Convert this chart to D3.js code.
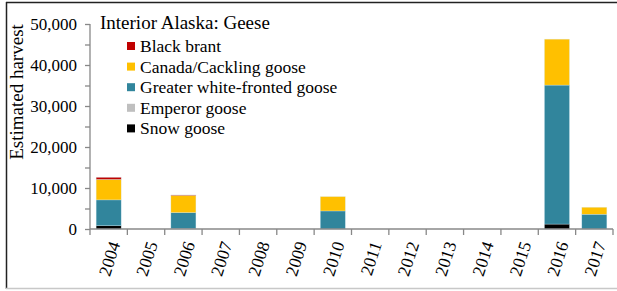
<!DOCTYPE html>
<html>
<head>
<meta charset="utf-8">
<script src="https://cdn.jsdelivr.net/npm/d3@7"></script>
<style>
  body { margin: 0; background: #fff; }
  svg { display: block; }
  svg text { font-family: "Times New Roman", "Liberation Serif", "DejaVu Serif", serif !important; fill: #000; }
</style>
</head>
<body>
<svg id="chart" width="617" height="291"></svg>
<script>
// ---- data ----
var years = ["2004","2005","2006","2007","2008","2009","2010","2011","2012","2013","2014","2015","2016","2017"];
var snowGoose     = [800, 0, 100, 0, 0, 0, 0, 0, 0, 0, 0, 0, 1200, 0];
var emperorGoose  = [0, 0, 0, 0, 0, 0, 0, 0, 0, 0, 0, 0, 0, 0];
var whiteFronted  = [6300, 0, 3900, 0, 0, 0, 4400, 0, 0, 0, 0, 0, 33900, 3600];
var canadaGoose   = [5000, 0, 4200, 0, 0, 0, 3500, 0, 0, 0, 0, 0, 11200, 1700];
var blackBrant    = [500, 0, 100, 0, 0, 0, 0, 0, 0, 0, 0, 0, 0, 0];
var yTicks = [0, 10000, 20000, 30000, 40000, 50000];

// legend order (top to bottom), stack goes the other way
var series = [
  {name: "Black brant", values: blackBrant, color: "#C00000"},
  {name: "Canada/Cackling goose", values: canadaGoose, color: "#FFC000"},
  {name: "Greater white-fronted goose", values: whiteFronted, color: "#31859C"},
  {name: "Emperor goose", values: emperorGoose, color: "#BFBFBF"},
  {name: "Snow goose", values: snowGoose, color: "#000000"}
];

var svg = d3.select("#chart");

// frame
svg.append("line").attr("x1", 6.5).attr("x2", 6.5).attr("y1", 2).attr("y2", 289).attr("stroke", "#222").attr("stroke-width", 1.5);
svg.append("line").attr("x1", 6).attr("x2", 617).attr("y1", 2.5).attr("y2", 2.5).attr("stroke", "#222").attr("stroke-width", 1.5);
svg.append("line").attr("x1", 6).attr("x2", 617).attr("y1", 288.5).attr("y2", 288.5).attr("stroke", "#c8c8c8").attr("stroke-width", 1.5);

var plotL = 90, plotR = 613, plotT = 24, plotB = 229;

var x = d3.scaleBand().domain(years).range([plotL, plotR]).paddingInner(0.33).paddingOuter(0.165);
var xb = d3.scaleBand().domain(years).range([plotL, plotR]); // for boundary ticks
var y = d3.scaleLinear().domain([0, 50000]).range([plotB, plotT]);

// build rows for stack
var rows = years.map(function (yr, i) {
  var r = {year: yr};
  series.forEach(function (s) { r[s.name] = s.values[i]; });
  return r;
});
var keys = series.map(function (s) { return s.name; }).reverse();
var stack = d3.stack().keys(keys)(rows);
var colorOf = {};
series.forEach(function (s) { colorOf[s.name] = s.color; });

svg.append("g").selectAll("g")
  .data(stack)
  .enter().append("g")
  .attr("fill", function (d) { return colorOf[d.key]; })
  .selectAll("rect")
  .data(function (d) { return d.filter(function (p) { return p[1] > p[0]; }); })
  .enter().append("rect")
  .attr("x", function (d) { return x(d.data.year); })
  .attr("width", x.bandwidth())
  .attr("y", function (d) { return y(d[1]); })
  .attr("height", function (d) { return y(d[0]) - y(d[1]); })
  .attr("stroke", "rgba(210,235,245,0.6)")
  .attr("stroke-width", 0.5);

// y axis
var yAxis = svg.append("g")
  .attr("transform", "translate(" + plotL + ",0)")
  .call(d3.axisLeft(y).tickValues(d3.range(0, 50001, 5000)).tickSize(5).tickFormat(function (v) {
    return yTicks.indexOf(v) >= 0 ? d3.format(",")(v) : "";
  }));
yAxis.attr("font-family", null);
yAxis.selectAll("path, line").attr("stroke", "#888").attr("stroke-width", 1.3);
yAxis.select(".domain").attr("d", "M0," + plotT + "V" + plotB);
yAxis.selectAll("text").attr("x", -13).attr("font-size", 17);

// x axis
var xAxis = svg.append("g").attr("transform", "translate(0," + plotB + ")");
xAxis.append("line").attr("x1", plotL).attr("x2", plotR).attr("stroke", "#888").attr("stroke-width", 1.3);
xAxis.selectAll("line.tick")
  .data(years.concat(["end"]))
  .enter().append("line")
  .attr("class", "tick")
  .attr("x1", function (d) { return d === "end" ? plotR : xb(d); })
  .attr("x2", function (d) { return d === "end" ? plotR : xb(d); })
  .attr("y1", 0).attr("y2", 6)
  .attr("stroke", "#888").attr("stroke-width", 1.3);
xAxis.selectAll("text")
  .data(years)
  .enter().append("text")
  .attr("transform", function (d) {
    return "translate(" + (xb(d) + xb.bandwidth() / 2 + 6) + ",13) rotate(-72)";
  })
  .attr("text-anchor", "end")
  .attr("dy", "0.35em")
  .attr("font-size", 17.5)
  .text(function (d) { return d; });

// y title
svg.append("text")
  .attr("transform", "translate(23,92) rotate(-90)")
  .attr("text-anchor", "middle")
  .attr("font-size", 19)
  .text("Estimated harvest");

// legend
svg.append("text").attr("x", 100).attr("y", 29).attr("font-size", 19).text("Interior Alaska: Geese");
var lg = svg.append("g").selectAll("g")
  .data(series)
  .enter().append("g")
  .attr("transform", function (d, i) { return "translate(127," + (46 + i * 20.6) + ")"; });
lg.append("rect").attr("x", 0).attr("y", -4).attr("width", 8).attr("height", 8).attr("fill", function (d) { return d.color; });
lg.append("text").attr("x", 13).attr("y", 6).attr("font-size", 17.5).text(function (d) { return d.name; });
</script>
</body>
</html>
